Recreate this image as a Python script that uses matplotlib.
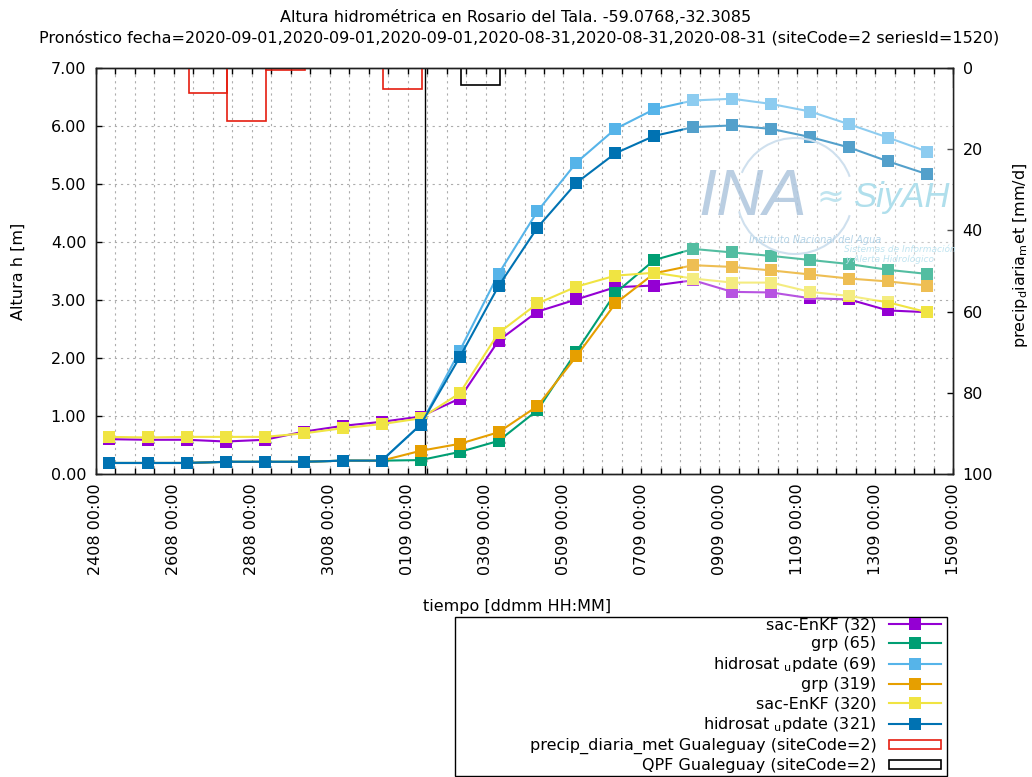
import matplotlib
matplotlib.use('Agg')
import matplotlib.pyplot as plt
import matplotlib.dates as mdates
import matplotlib.ticker as mticker
from matplotlib.patches import Rectangle, Patch, Arc
from matplotlib.lines import Line2D
import pandas as pd

plt.rcParams['font.family'] = ['DejaVu Sans']
plt.rcParams['mathtext.default'] = 'regular'

W, H = 1032, 777


def fx(px):
    return px / W


def fy(py):
    return 1 - py / H


# ---------------- data ----------------
times = pd.date_range('2020-08-24 08:00', periods=22, freq='D')

sac_enkf_32 = [0.60, 0.59, 0.59, 0.56, 0.59, 0.73, 0.83, 0.90, 0.99, 1.30, 2.30,
               2.80, 3.01, 3.22, 3.25, 3.34, 3.14, 3.13, 3.03, 3.01, 2.82, 2.79]
grp_65 = [0.19, 0.19, 0.19, 0.21, 0.21, 0.21, 0.23, 0.23, 0.24, 0.38, 0.57,
          1.10, 2.11, 3.12, 3.69, 3.88, 3.82, 3.76, 3.69, 3.62, 3.52, 3.45]
hidrosat_69 = [0.19, 0.19, 0.19, 0.21, 0.21, 0.21, 0.23, 0.23, 0.85, 2.12, 3.45,
               4.53, 5.37, 5.95, 6.29, 6.44, 6.47, 6.38, 6.25, 6.03, 5.80, 5.56]
grp_319 = [0.19, 0.19, 0.19, 0.21, 0.21, 0.21, 0.23, 0.23, 0.40, 0.52, 0.72,
           1.17, 2.03, 2.94, 3.46, 3.60, 3.57, 3.51, 3.44, 3.37, 3.32, 3.25]
sac_enkf_320 = [0.64, 0.63, 0.64, 0.64, 0.64, 0.70, 0.79, 0.86, 0.96, 1.39, 2.43,
                2.94, 3.23, 3.42, 3.47, 3.37, 3.30, 3.30, 3.14, 3.07, 2.96, 2.79]
hidrosat_321 = [0.19, 0.19, 0.19, 0.21, 0.21, 0.21, 0.23, 0.23, 0.85, 2.01, 3.24,
                4.25, 5.02, 5.53, 5.83, 5.98, 6.01, 5.95, 5.81, 5.63, 5.39, 5.17]

series = [sac_enkf_32, grp_65, hidrosat_69, grp_319, sac_enkf_320, hidrosat_321]
series_labels = ['sac-EnKF (32)', 'grp (65)', 'hidrosat $_{u}$pdate (69)',
                 'grp (319)', 'sac-EnKF (320)', 'hidrosat $_{u}$pdate (321)']
series_colors = ['#9400d3', '#009e73', '#56b4e9', '#e69f00', '#f0e442', '#0072b2']

precip_times = pd.to_datetime(['2020-08-26 09:00', '2020-08-27 09:00',
                               '2020-08-28 09:00', '2020-08-31 09:00'])
precip_vals = [6.1, 13.0, 0.5, 5.1]
qpf_times = pd.to_datetime(['2020-09-02 09:00'])
qpf_vals = [4.2]
forecast_time = pd.Timestamp('2020-09-01 11:00')

bar_labels = ['precip_diaria_met Gualeguay (siteCode=2)', 'QPF Gualeguay (siteCode=2)']
bar_colors = ['#e51e10', '#000000']

y_ticks = [0, 1, 2, 3, 4, 5, 6, 7]
y2_ticks = [0, 20, 40, 60, 80, 100]

FS = 11.5

# ---------------- figure ----------------
fig = plt.figure(figsize=(W / 100, H / 100), dpi=100)
ax = fig.add_axes([fx(96), fy(474), fx(953) - fx(96), (474 - 68) / H])
ax2 = ax.twinx()

for vals, lab, col in zip(series, series_labels, series_colors):
    ax.plot(times, vals, color=col, lw=1.5, marker='s', ms=8, mew=0, label=lab, zorder=3)

ax.axvline(forecast_time, color='black', lw=1.0, zorder=2)

ax2.bar(precip_times, precip_vals, width=1.0, align='edge', facecolor='none',
        edgecolor=bar_colors[0], lw=1.2)
ax2.bar(qpf_times, qpf_vals, width=1.0, align='edge', facecolor='none',
        edgecolor=bar_colors[1], lw=1.2)

ax.set_xlim(pd.Timestamp('2020-08-24'), pd.Timestamp('2020-09-15'))
ax.set_ylim(0, 7)
ax2.set_ylim(100, 0)

major_ticks = pd.date_range('2020-08-24', '2020-09-15', freq='2D')
minor_ticks = pd.date_range('2020-08-24', '2020-09-15', freq='12h')
ax.set_xticks(major_ticks)
ax.set_xticks(minor_ticks, minor=True)
ax.xaxis.set_major_formatter(mdates.DateFormatter('%d%m %H:%M'))
ax.set_yticks(y_ticks)
ax.yaxis.set_major_formatter(mticker.FormatStrFormatter('%.2f'))
ax2.set_yticks(y2_ticks)

ax.tick_params(axis='x', which='both', direction='in', length=4, width=1,
               top=True, bottom=True, labelsize=FS, labelrotation=90, pad=7)
ax.tick_params(axis='y', which='both', direction='in', length=4, width=1,
               left=True, right=False, labelsize=FS, pad=7)
ax2.tick_params(axis='y', direction='in', length=4, width=1, labelsize=FS, pad=7)

grid_kw = dict(color='#adadad', lw=0.8, linestyle=(0, (2, 3.5)))
ax.grid(True, which='both', axis='x', **grid_kw)
ax.grid(True, which='major', axis='y', **grid_kw)
ax.set_axisbelow(True)

for a in (ax, ax2):
    for s in a.spines.values():
        s.set_linewidth(1.0)
        s.set_color('#202020')

# ---------------- texts ----------------
fig.text(fx(516), fy(17), 'Altura hidrométrica en Rosario del Tala. -59.0768,-32.3085',
         ha='center', va='center', fontsize=FS)
fig.text(fx(519), fy(38),
         'Pronóstico fecha=2020-09-01,2020-09-01,2020-09-01,2020-08-31,2020-08-31,2020-08-31 '
         '(siteCode=2 seriesId=1520)', ha='center', va='center', fontsize=FS)
fig.text(fx(18), fy(271), 'Altura h [m]', rotation=90, ha='center', va='center', fontsize=FS)
fig.text(fx(1020), fy(255), 'precip$_{d}$iaria$_{m}$et [mm/d]', rotation=90,
         ha='center', va='center', fontsize=FS)
fig.text(fx(517), fy(607), 'tiempo [ddmm HH:MM]', ha='center', va='center', fontsize=FS)

# ---------------- watermark (logo) ----------------
fig.add_artist(Rectangle((fx(683), fy(300)), fx(953) - fx(683), (300 - 88) / H,
                         transform=fig.transFigure, facecolor='white', edgecolor='none',
                         alpha=0.33, zorder=5))
r = 58
for t1, t2 in [(25, 150), (200, 335)]:
    fig.add_artist(Arc((fx(795), fy(196)), 2 * r / W, 2 * r / H, theta1=t1, theta2=t2,
                       transform=fig.transFigure, color='#cfe0ee', lw=1.5, zorder=6))
fig.text(fx(698), fy(215), 'INA', fontsize=47, style='italic', color='#a9c2db',
         family='Liberation Sans', ha='left', va='baseline', zorder=7, alpha=0.8)
fig.text(fx(830), fy(197), '≈', fontsize=24, color='#bfe4ef', ha='center', va='center', zorder=7)
fig.text(fx(853), fy(207), 'SiyAH', fontsize=25, style='italic', color='#b0dfec',
         family='Liberation Sans', ha='left', va='baseline', zorder=7)
fig.text(fx(815), fy(240), 'Instituto Nacional del Agua', fontsize=7, style='italic',
         color='#b3d3e7', ha='center', va='center', zorder=7)
fig.text(fx(900), fy(250), 'Sistemas de Información', fontsize=6.5, style='italic',
         color='#c0e4f0', ha='center', va='center', zorder=7)
fig.text(fx(890), fy(259), 'y Alerta Hidrológico', fontsize=6.5, style='italic',
         color='#c0e4f0', ha='center', va='center', zorder=7)

# ---------------- legend ----------------
handles = [Line2D([], [], color=c, lw=1.5, marker='s', ms=8, mew=0) for c in series_colors]
handles += [Patch(facecolor='none', edgecolor=c, lw=1.2) for c in bar_colors]
labels = series_labels + bar_labels
fig.legend(handles, labels, loc='upper right', bbox_to_anchor=(fx(941), fy(617)),
           frameon=False, markerfirst=False, borderpad=0, borderaxespad=0,
           handlelength=3.25, handletextpad=0.8, labelspacing=0.24, fontsize=FS,
           numpoints=1, handleheight=0.5)
fig.add_artist(Rectangle((fx(455), fy(776)), fx(947) - fx(455), (776 - 617) / H,
                         transform=fig.transFigure, fill=False, edgecolor='black', lw=1))

fig.savefig('out.png', dpi=100)
